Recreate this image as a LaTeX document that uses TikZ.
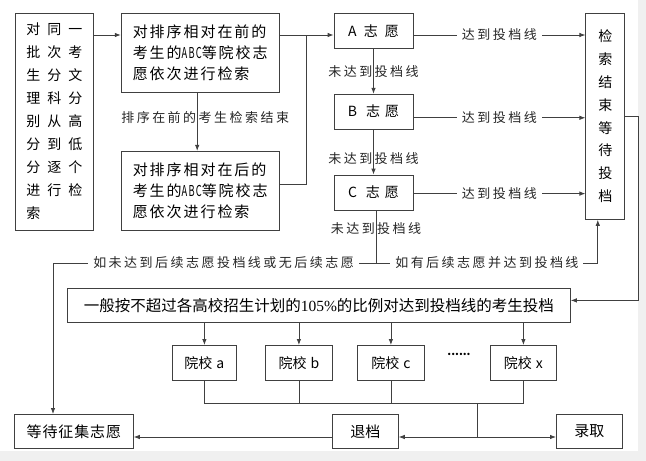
\documentclass[tikz,border=0pt]{standalone}
\usepackage{fontspec}
\usepackage{graphicx}
\setmainfont{Noto Sans CJK SC}
\newfontfamily\serifnum{Liberation Serif}
\usetikzlibrary{positioning, arrows.meta}

\newcommand{\abc}{\scalebox{0.62}[1]{ABC}}

\tikzset{
    box/.style={draw=black!75, line width=0.8pt, inner sep=0pt},
    wide/.style={box, minimum width=158pt, minimum height=79pt, align=left,
        font=\fontsize{15pt}{21pt}\selectfont\addfontfeature{LetterSpace=13}},
    choice/.style={box, minimum width=79pt, minimum height=35pt, font=\fontsize{14pt}{16pt}\selectfont},
    small/.style={box, minimum height=35pt, font=\fontsize{14pt}{16pt}\selectfont},
    lbl/.style={text=black!85, inner xsep=5pt, inner ysep=1pt,
        font=\fontsize{13pt}{15pt}\selectfont\addfontfeature{LetterSpace=19}},
}

\begin{document}
\begin{tikzpicture}[x=1pt, y=1pt, line width=0.8pt, draw=black!75, >={Latex[length=6pt,width=4.5pt]}]
    \useasboundingbox (0,0) rectangle (646,-461);
    \fill[black!6] (0,0) rectangle (646,-461);
    \fill[white] (0,0) rectangle (638,-451);

    \node[box, anchor=north west, minimum width=78pt, minimum height=217pt, font=\fontsize{14pt}{23pt}\selectfont] (sort) at (15,-13)
        {\begin{tabular}{@{}l@{\hspace{7pt}}l@{\hspace{7pt}}l@{}}
        对&同&一\\批&次&考\\生&分&文\\理&科&分\\别&从&高\\分&到&低\\分&逐&个\\进&行&检\\索&&
        \end{tabular}};
    \node[wide, right=27pt of sort.north east, anchor=north west] (front) {对排序相对在前的\\考生的\abc 等院校志\\愿依次进行检索};
    \node[wide, below=58pt of front] (back) {对排序相对在后的\\考生的\abc 等院校志\\愿依次进行检索};
    \node[choice, right=54pt of front.north east, anchor=north west] (choiceA) {A\hspace{7pt}志\hspace{7pt}愿};
    \node[choice, below=45pt of choiceA] (choiceB) {B\hspace{9pt}志\hspace{5pt}愿};
    \node[choice, below=45pt of choiceB] (choiceC) {C\hspace{9pt}志\hspace{5pt}愿};
    \node[box, right=172pt of choiceA.north east, anchor=north west, minimum width=39pt, minimum height=206pt,
        align=center, font=\fontsize{14pt}{22.8pt}\selectfont] (done) {检\\索\\结\\束\\等\\待\\投\\档};

    \node[box, anchor=north west, minimum width=503pt, minimum height=34pt, font=\fontsize{15.5pt}{18pt}\selectfont] (plan) at (67,-288)
        {一般按不超过各高校招生计划的{\serifnum 105\%}的比例对达到投档线的考生投档};
    \node[small, anchor=north west, minimum width=64pt] (schoolA) at (172,-345) {院校\hspace{4pt}a};
    \node[small, anchor=north west, minimum width=67pt] (schoolB) at (265,-345) {院校\hspace{4pt}b};
    \node[small, anchor=north west, minimum width=67pt] (schoolC) at (357,-345) {院校\hspace{4pt}c};
    \node[small, anchor=north west, minimum width=66pt] (schoolX) at (490,-345) {院校\hspace{4pt}x};
    \node[font=\bfseries\fontsize{11pt}{11pt}\selectfont] (dots) at (459,-354) {......};

    \node[small, anchor=north west, minimum width=119pt, minimum height=34pt, font=\fontsize{15pt}{16pt}\selectfont\addfontfeature{LetterSpace=6}] (wait) at (14,-414) {等待征集志愿};
    \node[small, anchor=north west, minimum width=66pt, minimum height=34pt, font=\fontsize{15pt}{16pt}\selectfont] (withdraw) at (332,-414) {退档};
    \node[small, anchor=north west, minimum width=66pt, minimum height=34pt, font=\fontsize{15pt}{16pt}\selectfont] (admit) at (556,-414) {录取};

    % 检索
    \coordinate (sortOut) at ([yshift=-22pt]sort.north east);
    \coordinate (frontOut) at ([yshift=-22pt]front.north east);
    \coordinate (backOut) at ([yshift=-34pt]back.north east);
    \coordinate (merge) at ([xshift=27pt]frontOut);
    \draw[->] (sortOut)--(sortOut -| front.west);
    \draw[->] ([xshift=-3pt]front.south)--node[lbl, xshift=8pt, pos=0.42]{排序在前的考生检索结束}([xshift=-3pt]back.north);
    \draw (frontOut)--(merge);
    \draw (backOut)-|(merge);
    \draw[->] (merge)--(merge -| choiceA.west);

    \coordinate (hitA) at ([yshift=-22pt]choiceA.north east);
    \coordinate (hitB) at ([yshift=-24pt]choiceB.north east);
    \coordinate (hitC) at ([yshift=-19pt]choiceC.north east);
    \foreach \h in {hitA, hitB, hitC}
        \draw[->] (\h)--node[lbl, fill=white]{达到投档线}(\h -| done.west);
    \draw[->] (choiceA)--node[lbl]{未达到投档线}(choiceB);
    \draw[->] (choiceB)--node[lbl, pos=0.64]{未达到投档线}(choiceC);

    % 后续志愿
    \coordinate (split) at (376,-263);
    \coordinate (waitIn) at ([xshift=39pt]wait.north west);
    \coordinate (doneIn) at ([xshift=-7.5pt]done.south);
    \draw (choiceC.south -| split)--node[lbl, pos=0.34]{未达到投档线}(split);
    \draw[->] (split)--node[lbl, fill=white, pos=0.472]{如未达到后续志愿投档线或无后续志愿}(split -| waitIn)--(waitIn);
    \draw[->] (split)--node[lbl, fill=white, pos=0.5]{如有后续志愿并达到投档线}(split -| doneIn)--(doneIn);
    \draw[->] (done.east)--++(13pt,0)|-([yshift=5pt]plan.east);

    % 投档
    \foreach \s in {schoolA, schoolB, schoolC, schoolX}
        \draw[->] (plan.south -| \s.north)--(\s.north);
    \coordinate (gather) at (477,-403);
    \coordinate (fork) at (477,-437);
    \draw (schoolA.south)|-(schoolX.south |- gather)--(schoolX.south);
    \draw (schoolB.south)--(schoolB.south |- gather);
    \draw (schoolC.south)--(schoolC.south |- gather);
    \draw (gather)--(fork);
    \draw[->] (fork)--(fork -| withdraw.east);
    \draw[->] (fork)--(fork -| admit.west);
    \draw[->] (fork -| withdraw.west)--(fork -| wait.east);
\end{tikzpicture}
\end{document}
